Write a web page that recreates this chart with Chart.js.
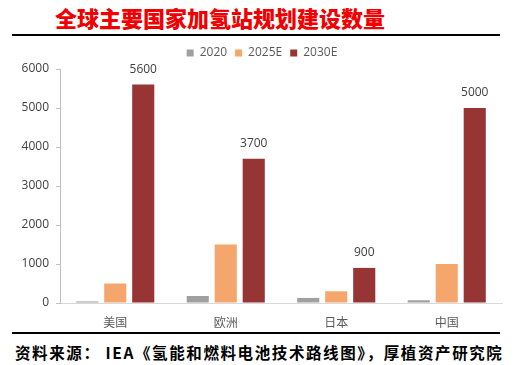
<!DOCTYPE html>
<html>
<head>
<meta charset="utf-8">
<script src="https://cdn.jsdelivr.net/npm/chart.js@4.4.1/dist/chart.umd.min.js"></script>
<style>
  html,body{margin:0;padding:0;background:#fff;}
  body{width:529px;height:365px;position:relative;overflow:hidden;font-family:"Noto Sans CJK SC","Noto Sans",sans-serif;}
  #title{position:absolute;left:55px;top:2px;font-size:22px;font-weight:900;color:#f00000;line-height:30px;white-space:nowrap;}
  .rule{position:absolute;left:12px;width:488px;height:2px;background:#000;}
  #src{position:absolute;left:15px;top:340px;font-size:15.5px;font-weight:bold;color:#000;line-height:24px;white-space:nowrap;letter-spacing:1.6px;}
  #wrap{position:absolute;left:0;top:39px;width:529px;height:289px;}
</style>
</head>
<body>
<div id="title">全球主要国家加氢站规划建设数量</div>
<div class="rule" style="top:34px"></div>
<div id="wrap"><canvas id="c"></canvas></div>
<div class="rule" style="top:332px"></div>
<div id="src">资料来源： IEA《氢能和燃料电池技术路线图》，厚植资产研究院</div>
<script>
const categories = ["美国", "欧洲", "日本", "中国"];
const seriesNames = ["2020", "2025E", "2030E"];
const values2020 = [40, 180, 130, 70];
const values2025E = [500, 1500, 300, 1000];
const values2030E = [5600, 3700, 900, 5000];
const yTicks = [0, 1000, 2000, 3000, 4000, 5000, 6000];
const colors = ["#a0a0a0", "#f4a66c", "#973535"];

const labelPlugin = {
  id: "topLabels",
  afterLayout(chart) {
    if (chart.legend) { chart.legend.left += 11; chart.legend.right += 11; }
  },
  afterDatasetsDraw(chart) {
    const ctx = chart.ctx;
    const meta = chart.getDatasetMeta(2);
    ctx.save();
    ctx.font = "12px 'Open Sans', 'Noto Sans', sans-serif";
    ctx.fillStyle = "#404040";
    ctx.textAlign = "center";
    ctx.textBaseline = "bottom";
    meta.data.forEach((bar, i) => {
      ctx.fillText(String(values2030E[i]), bar.x, bar.y - 9);
    });
    ctx.restore();
  }
};

new Chart(document.getElementById("c"), {
  type: "bar",
  data: {
    labels: categories,
    datasets: [
      { label: seriesNames[0], data: values2020, backgroundColor: colors[0] },
      { label: seriesNames[1], data: values2025E, backgroundColor: colors[1] },
      { label: seriesNames[2], data: values2030E, backgroundColor: colors[2] }
    ]
  },
  options: {
    responsive: true,
    maintainAspectRatio: false,
    animation: false,
    layout: { padding: { left: 0, right: 27, top: 0, bottom: 0 } },
    datasets: { bar: { categoryPercentage: 0.76, barPercentage: 0.79 } },
    plugins: {
      legend: {
        position: "top",
        labels: {
          boxWidth: 7, boxHeight: 7, padding: 8,
          color: "#595959",
          font: { size: 12, family: "'Open Sans', 'Noto Sans', sans-serif" }
        }
      },
      tooltip: { enabled: false }
    },
    scales: {
      x: {
        grid: { display: true, drawOnChartArea: false, drawTicks: false },
        border: { color: "#d9d9d9", width: 1 },
        ticks: { color: "#595959", padding: 12, font: { size: 12, family: "'Noto Sans CJK SC', sans-serif" } },
        afterFit(s) { s.height = 25; }
      },
      y: {
        min: 0, max: 6000,
        afterBuildTicks(s) { s.ticks = yTicks.map(v => ({ value: v })); },
        grid: { display: true, drawOnChartArea: false, drawTicks: true, tickLength: 4, color: "#bfbfbf" },
        border: { color: "#bfbfbf", width: 1 },
        ticks: { color: "#404040", padding: 7, font: { size: 12, family: "'Open Sans', 'Noto Sans', sans-serif" },
                 callback: (v) => String(v) },
        afterFit(s) { s.width = 60; }
      }
    }
  },
  plugins: [labelPlugin]
});
</script>
</body>
</html>
